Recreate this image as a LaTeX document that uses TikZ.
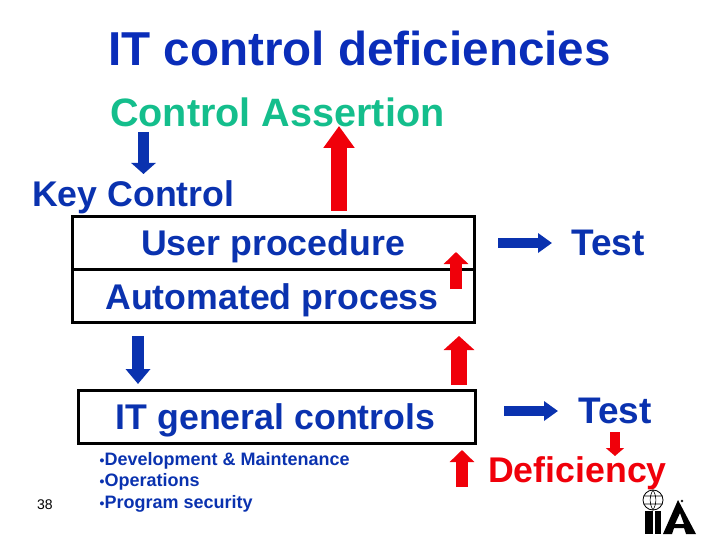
\documentclass[tikz,border=0pt]{standalone}
\usepackage{fontspec}
\setmainfont{Liberation Sans}
\usetikzlibrary{arrows.meta,positioning,calc}
\definecolor{kblue}{RGB}{10,50,175}
\definecolor{knavy}{RGB}{10,45,185}
\definecolor{kgreen}{RGB}{20,190,140}
\definecolor{kred}{RGB}{240,0,10}
\newcommand{\bul}{{\fontsize{14}{14}\selectfont •}}
\tikzset{
  lbl/.style={font=\bfseries\fontsize{#1}{#1}\selectfont,inner sep=0pt},
  boxk/.style={draw=black,line width=3pt,outer sep=0pt,inner sep=0pt,minimum height=53pt,anchor=north west},
  blk/.style={-{Triangle[length=11pt,width=24pt]},line width=11pt,kblue},
  blkb/.style={-{Triangle[length=15pt,width=24pt]},line width=12pt,kblue},
  redb/.style={-{Triangle[length=22pt,width=30pt]},line width=16pt,kred},
  redm/.style={-{Triangle[length=14pt,width=30pt]},line width=16pt,kred},
  reds/.style={-{Triangle[length=12pt,width=24pt]},line width=12pt,kred},
  blkh/.style={-{Triangle[length=14pt,width=19pt]},line width=10pt,kblue},
}
\begin{document}
\begin{tikzpicture}[x=1pt,y=-1pt]
\useasboundingbox (0,0) rectangle (720,540);
% texts
\node[lbl=47.6,anchor=base west,text=knavy] (title) at (108,66) {IT control deficiencies};
\node[lbl=39.6,anchor=base west,text=kgreen] (assert) at (110,127) {Control Assertion};
\node[lbl=35.7,anchor=base west,text=kblue] (key) at (32,207) {Key Control};
% boxes
\node[boxk,minimum width=402pt] (user) at (72,216.5) {};
\node[boxk,minimum width=402pt] (auto) at (72,269.5) {};
\node[boxk,minimum width=397pt] (itgc) at (78,390.5) {};
\node[lbl=35.7,anchor=base,text=kblue] (usert) at (273,255) {User procedure};
\node[lbl=35.7,anchor=base,text=kblue] (autot) at (272,309) {Automated process};
\node[lbl=35.7,anchor=base,text=kblue] (itgct) at (275.5,429) {IT general controls};
\node[lbl=37,anchor=base west,text=kblue] (test1) at (571,255) {Test};
\node[lbl=37,anchor=base west,text=kblue] (test2) at (578,423) {Test};
\node[lbl=35.7,anchor=base west,text=kred] (defic) at (488,482) {Deficiency};
\node[lbl=18,anchor=base west,text=kblue] (list1) at (99.5,465) {\bul Development \& Maintenance};
\node[lbl=18,anchor=base west,text=kblue] (list2) at (99.5,486) {\bul Operations};
\node[lbl=18,anchor=base west,text=kblue] (list3) at (99.5,508) {\bul Program security};
\node[font=\fontsize{14}{14}\selectfont,inner sep=0pt,anchor=base west] (num) at (37,509) {38};
% arrows
\coordinate (a1) at (143.5,132); \coordinate (a2) at (143.5,174);
\coordinate (b1) at (339,211); \coordinate (b2) at (339,126);
\coordinate (c1) at (456,289); \coordinate (c2) at (456,252);
\coordinate (d1) at (138,336); \coordinate (d2) at (138,384);
\coordinate (e1) at (459,385); \coordinate (e2) at (459,336);
\coordinate (f1) at (462,487); \coordinate (f2) at (462,450);
\draw[blk] (a1)--(a2);
\draw[redb] (b1)--(b2);
\draw[reds] (c1)--(c2);
\draw[blkb] (d1)--(d2);
\draw[redm] (e1)--(e2);
\draw[reds] (f1)--(f2);
\coordinate (g1) at (498,243); \coordinate (g2) at (552,243);
\coordinate (h1) at (504,411); \coordinate (h2) at (558,411);
\coordinate (i1) at (615,432); \coordinate (i2) at (615,456);
\draw[blkh] (g1)--(g2);
\draw[blkh] (h1)--(h2);
\draw[-{Triangle[length=8pt,width=18pt]},line width=10pt,kred] (i1)--(i2);
% logo
\fill (645,511) rectangle (653,534);
\fill (655,511) rectangle (661,534);
\fill[even odd rule] (663,534)--(678,500)--(696,534)--(686,534)--(684,528)--(674,528)--(672,534)--cycle
  (675,524)--(680,513)--(684,524)--cycle;
\draw[line width=.5pt] (682,501) circle(1);
\draw[fill=white,line width=.8pt] (653,500) circle(10);
\draw[line width=.6pt] (643.5,496)--(662.5,496) (643.5,504)--(662.5,504) (653,490) to[bend left=30] (653,510) (653,490) to[bend right=30] (653,510);
\end{tikzpicture}
\end{document}
